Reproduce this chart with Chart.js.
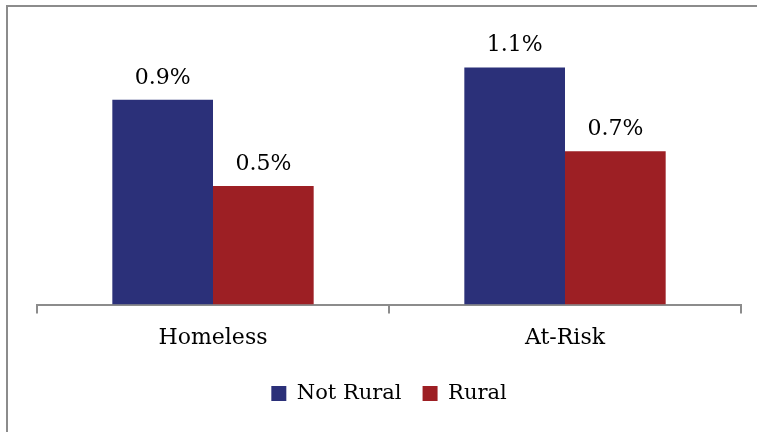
<!DOCTYPE html>
<html>
<head>
<meta charset="utf-8">
<script src="https://cdn.jsdelivr.net/npm/chart.js@4"></script>
<style>
  html, body { margin: 0; padding: 0; background: #fff; overflow: hidden; }
  #wrap { position: relative; width: 761px; height: 432px; overflow: hidden; }
  #frame { position: absolute; left: 6px; top: 5px; width: 749px; height: 440px;
           border-left: 2px solid #8c8c8c; border-top: 2px solid #8c8c8c; pointer-events: none; }
</style>
</head>
<body>
<div id="wrap">
  <canvas id="chart" width="761" height="432"></canvas>
  <div id="frame"></div>
</div>
<script>
const categories = ['Homeless', 'At-Risk'];
const notRural = [0.949, 1.099];
const rural = [0.549, 0.71];
const seriesNames = ['Not Rural', 'Rural'];
const seriesColors = ['#2b3079', '#9d1f24'];

const FONT = "'DejaVu Serif', serif";

const valueLabels = {
    id: 'valueLabels',
    afterDatasetsDraw(chart) {
        const ctx = chart.ctx;
        ctx.save();
        ctx.font = `22px ${FONT}`;
        ctx.fillStyle = '#000';
        ctx.textAlign = 'center';
        ctx.textBaseline = 'alphabetic';
        chart.data.datasets.forEach((ds, i) => {
            chart.getDatasetMeta(i).data.forEach((bar, j) => {
                ctx.fillText(ds.data[j].toFixed(1) + '%', bar.x, bar.y - 16);
            });
        });
        ctx.restore();
    }
};

new Chart(document.getElementById('chart').getContext('2d'), {
    type: 'bar',
    data: {
        labels: categories,
        datasets: [
            { label: seriesNames[0], data: notRural, backgroundColor: seriesColors[0] },
            { label: seriesNames[1], data: rural, backgroundColor: seriesColors[1] }
        ]
    },
    options: {
        responsive: false,
        animation: false,
        devicePixelRatio: 1,
        categoryPercentage: 0.572,
        barPercentage: 1,
        layout: { padding: { left: 37, right: 20, top: 24, bottom: 18 } },
        scales: {
            x: {
                offset: true,
                grid: { offset: true, drawOnChartArea: false, drawTicks: true, tickLength: 9, color: '#8c8c8c', lineWidth: 2 },
                border: { display: true, color: '#8c8c8c', width: 2 },
                ticks: { color: '#000', font: { family: FONT, size: 22 }, padding: 11 }
            },
            y: {
                display: false,
                min: 0,
                max: 1.3
            }
        },
        plugins: {
            legend: {
                position: 'bottom',
                labels: {
                    color: '#000',
                    font: { family: FONT, size: 21 },
                    boxWidth: 15,
                    boxHeight: 15,
                    padding: 21
                }
            },
            tooltip: { enabled: false }
        }
    },
    plugins: [valueLabels]
});
</script>
</body>
</html>
